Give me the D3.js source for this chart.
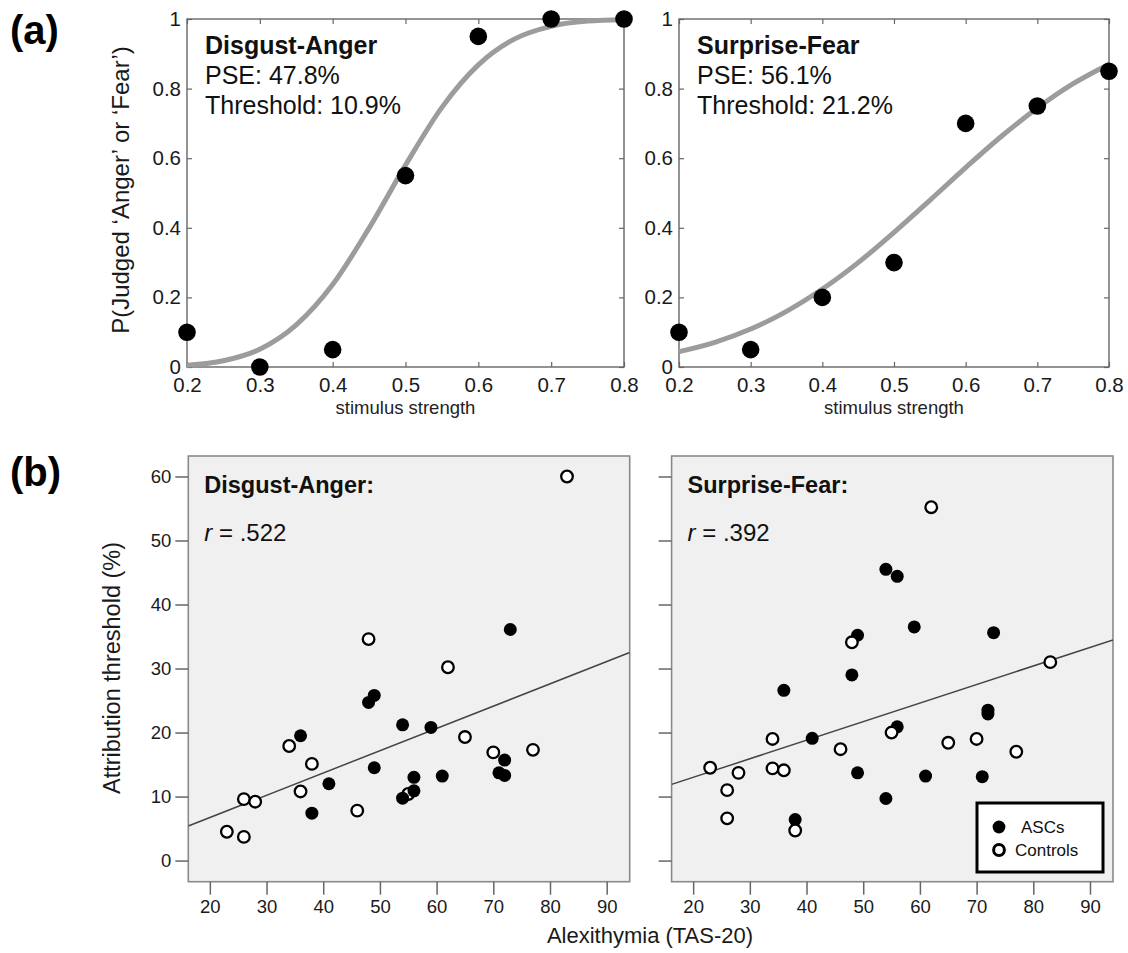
<!DOCTYPE html>
<html>
<head>
<meta charset="utf-8">
<script src="https://cdn.jsdelivr.net/npm/d3@7"></script>
<style>
  body { margin: 0; background: #fff; }
  svg { display: block; font-family: "Liberation Sans", Arial, sans-serif; }
</style>
</head>
<body>
<svg id="chart" width="1128" height="953"></svg>
<script>
// ---------- panel (a): psychometric curves ----------
var strength = [0.2, 0.3, 0.4, 0.5, 0.6, 0.7, 0.8];
var daProp = [0.10, 0.00, 0.05, 0.55, 0.95, 1.00, 1.00];
var sfProp = [0.10, 0.05, 0.20, 0.30, 0.70, 0.75, 0.85];

// fitted curves
var fitX  = [0.20, 0.25, 0.30, 0.35, 0.40, 0.45, 0.50, 0.55, 0.60, 0.65, 0.70, 0.75, 0.80];
var daFit = [0.005, 0.018, 0.051, 0.121, 0.237, 0.399, 0.580, 0.746, 0.868, 0.943, 0.979, 0.994, 0.998];
var sfFit = [0.044, 0.071, 0.109, 0.160, 0.224, 0.300, 0.387, 0.479, 0.573, 0.663, 0.744, 0.814, 0.870];

var strengthTicks = [0.2, 0.3, 0.4, 0.5, 0.6, 0.7, 0.8];
var probTicks = [0, 0.2, 0.4, 0.6, 0.8, 1];

// ---------- panel (b): threshold vs alexithymia ----------
var daAscTas = [36, 38, 41, 48, 49, 49, 54, 54, 56, 56, 59, 61, 71, 72, 72, 73];
var daAscThr = [19.5, 7.4, 12.0, 24.7, 25.8, 14.5, 21.2, 9.75, 13.0, 10.9, 20.8, 13.2, 13.7, 15.7, 13.3, 36.1];
var daCtlTas = [23, 26, 26, 28, 34, 36, 38, 46, 48, 55, 62, 65, 70, 77, 83];
var daCtlThr = [4.5, 9.6, 3.7, 9.2, 17.9, 10.8, 15.1, 7.8, 34.6, 10.4, 30.2, 19.3, 16.9, 17.3, 60.0];

var sfAscTas = [36, 38, 41, 48, 49, 49, 54, 54, 56, 56, 59, 61, 71, 72, 72, 73];
var sfAscThr = [26.6, 6.4, 19.1, 29.0, 35.2, 13.7, 45.5, 9.7, 44.4, 20.9, 36.5, 13.2, 13.1, 23.5, 22.9, 35.6];
var sfCtlTas = [23, 26, 26, 28, 34, 34, 36, 38, 46, 48, 55, 62, 65, 70, 77, 83];
var sfCtlThr = [14.5, 11.0, 6.6, 13.7, 19.0, 14.4, 14.1, 4.7, 17.4, 34.1, 20.0, 55.2, 18.4, 19.0, 17.0, 31.0];

// regression lines (intercept, slope)
var daFitLine = [-0.24, 0.348];
var sfFitLine = [7.2, 0.29];

var tasTicks = [20, 30, 40, 50, 60, 70, 80, 90];
var thrTicks = [0, 10, 20, 30, 40, 50, 60];

var svg = d3.select("#chart");

// panel letters
svg.append("text").attr("x", 10).attr("y", 44)
    .attr("font-size", 40).attr("font-weight", "bold").text("(a)");
svg.append("text").attr("x", 10).attr("y", 486)
    .attr("font-size", 40).attr("font-weight", "bold").text("(b)");

// ===== panel (a) =====
function drawPsych(x0, x1, props, fit, title, pse, thr) {
    var y0 = 367, y1 = 19;
    var x = d3.scaleLinear().domain([0.2, 0.8]).range([x0, x1]);
    var y = d3.scaleLinear().domain([0, 1]).range([y0, y1]);
    var g = svg.append("g");

    g.append("rect")
        .attr("x", x0).attr("y", y1)
        .attr("width", x1 - x0).attr("height", y0 - y1)
        .attr("fill", "none").attr("stroke", "#666").attr("stroke-width", 1.4);

    // inward ticks on all four sides
    var bottom = g.append("g").attr("transform", "translate(0," + y0 + ")")
        .call(d3.axisBottom(x).tickValues(strengthTicks).tickSizeInner(-5).tickSizeOuter(0)
            .tickPadding(10).tickFormat(d3.format("~g")));
    var top = g.append("g").attr("transform", "translate(0," + y1 + ")")
        .call(d3.axisTop(x).tickValues(strengthTicks).tickSizeInner(-5).tickSizeOuter(0).tickFormat(""));
    var left = g.append("g").attr("transform", "translate(" + x0 + ",0)")
        .call(d3.axisLeft(y).tickValues(probTicks).tickSizeInner(-5).tickSizeOuter(0)
            .tickPadding(6).tickFormat(d3.format("~g")));
    var right = g.append("g").attr("transform", "translate(" + x1 + ",0)")
        .call(d3.axisRight(y).tickValues(probTicks).tickSizeInner(-5).tickSizeOuter(0).tickFormat(""));

    [bottom, top, left, right].forEach(function(a) {
        a.select(".domain").remove();
        a.selectAll(".tick line").attr("stroke", "#666").attr("stroke-width", 1.2);
        a.selectAll(".tick text").attr("font-size", 20.5).attr("fill", "#1a1a1a")
            .attr("font-family", "Liberation Sans, Arial, sans-serif");
    });

    var line = d3.line()
        .x(function(d, i) { return x(fitX[i]); })
        .y(function(d) { return y(d); })
        .curve(d3.curveMonotoneX);
    g.append("path").datum(fit)
        .attr("d", line)
        .attr("fill", "none").attr("stroke", "#9c9c9c").attr("stroke-width", 5);

    g.selectAll("circle.pt").data(props).enter().append("circle")
        .attr("class", "pt")
        .attr("cx", function(d, i) { return x(strength[i]); })
        .attr("cy", function(d) { return y(d); })
        .attr("r", 8.8).attr("fill", "#000");

    var tx = x0 + 18;
    g.append("text").attr("x", tx).attr("y", 54).attr("font-size", 25)
        .attr("font-weight", "bold").attr("fill", "#111").text(title);
    g.append("text").attr("x", tx).attr("y", 84).attr("font-size", 25)
        .attr("fill", "#111").text("PSE: " + pse);
    g.append("text").attr("x", tx).attr("y", 114).attr("font-size", 25)
        .attr("fill", "#111").text("Threshold: " + thr);

    g.append("text")
        .attr("x", (x0 + x1) / 2).attr("y", 414)
        .attr("text-anchor", "middle").attr("font-size", 18.5).attr("fill", "#222")
        .text("stimulus strength");
}

drawPsych(187, 624, daProp, daFit, "Disgust-Anger", "47.8%", "10.9%");
drawPsych(679, 1109, sfProp, sfFit, "Surprise-Fear", "56.1%", "21.2%");

svg.append("text")
    .attr("transform", "translate(129,190) rotate(-90)")
    .attr("text-anchor", "middle").attr("font-size", 24).attr("fill", "#1a1a1a")
    .text("P(Judged \u2018Anger\u2019 or \u2018Fear\u2019)");

// ===== panel (b) =====
function drawScatter(x0, x1, showLabels, ascTas, ascThr, ctlTas, ctlThr, fitLine, title, r, ascOnTop, id) {
    var y0 = 881.7, y1 = 456;
    var x = d3.scaleLinear().domain([16.2, 94.06]).range([x0, x1]);
    var y = d3.scaleLinear().domain([-3.3, 63.2]).range([y0, y1]);
    var g = svg.append("g");

    g.append("clipPath").attr("id", "clip" + id)
        .append("rect").attr("x", x0).attr("y", y1).attr("width", x1 - x0).attr("height", y0 - y1);

    g.append("rect")
        .attr("x", x0).attr("y", y1)
        .attr("width", x1 - x0).attr("height", y0 - y1)
        .attr("fill", "#f0f0f0").attr("stroke", "#8a8a8a").attr("stroke-width", 1.6);

    var bottom = g.append("g").attr("transform", "translate(0," + y0 + ")")
        .call(d3.axisBottom(x).tickValues(tasTicks).tickSizeInner(13).tickSizeOuter(0).tickPadding(5));
    var left = g.append("g").attr("transform", "translate(" + x0 + ",0)")
        .call(d3.axisLeft(y).tickValues(thrTicks).tickSizeInner(13).tickSizeOuter(0).tickPadding(4)
            .tickFormat(showLabels ? d3.format("d") : ""));
    [bottom, left].forEach(function(a) {
        a.select(".domain").remove();
        a.selectAll(".tick line").attr("stroke", "#666").attr("stroke-width", 1.5);
        a.selectAll(".tick text").attr("font-size", 18.5).attr("fill", "#1a1a1a")
            .attr("font-family", "Liberation Sans, Arial, sans-serif");
    });

    var xd = x.domain();
    g.append("line")
        .attr("clip-path", "url(#clip" + id + ")")
        .attr("x1", x(xd[0])).attr("y1", y(fitLine[0] + fitLine[1] * xd[0]))
        .attr("x2", x(xd[1])).attr("y2", y(fitLine[0] + fitLine[1] * xd[1]))
        .attr("stroke", "#444").attr("stroke-width", 1.5);

    function ctl() {
        g.append("g").selectAll("circle").data(ctlTas).enter().append("circle")
            .attr("cx", function(d) { return x(d); })
            .attr("cy", function(d, i) { return y(ctlThr[i]); })
            .attr("r", 5.8).attr("fill", "#fff").attr("stroke", "#000").attr("stroke-width", 2.3);
    }
    function asc() {
        g.append("g").selectAll("circle").data(ascTas).enter().append("circle")
            .attr("cx", function(d) { return x(d); })
            .attr("cy", function(d, i) { return y(ascThr[i]); })
            .attr("r", 6.5).attr("fill", "#000");
    }
    if (ascOnTop) { ctl(); asc(); } else { asc(); ctl(); }

    g.append("text").attr("x", x0 + 16).attr("y", 493).attr("font-size", 23.5)
        .attr("font-weight", "bold").attr("fill", "#111").text(title);
    var rt = g.append("text").attr("x", x0 + 16).attr("y", 541).attr("font-size", 24).attr("fill", "#111");
    rt.append("tspan").attr("font-style", "italic").text("r");
    rt.append("tspan").text(" = " + r);
    return g;
}

drawScatter(188.3, 629.7, true, daAscTas, daAscThr, daCtlTas, daCtlThr, daFitLine, "Disgust-Anger:", ".522", true, "da");
var sfG = drawScatter(671.6, 1113, false, sfAscTas, sfAscThr, sfCtlTas, sfCtlThr, sfFitLine, "Surprise-Fear:", ".392", false, "sf");

// legend
var lg = sfG.append("g");
lg.append("rect").attr("x", 977).attr("y", 803).attr("width", 126).attr("height", 69)
    .attr("fill", "#fff").attr("stroke", "#000").attr("stroke-width", 3);
lg.append("circle").attr("cx", 999).attr("cy", 827).attr("r", 6.4).attr("fill", "#000");
lg.append("circle").attr("cx", 999).attr("cy", 850).attr("r", 5.4)
    .attr("fill", "#fff").attr("stroke", "#000").attr("stroke-width", 3);
lg.append("text").attr("x", 1021).attr("y", 833).attr("font-size", 17).attr("fill", "#111").text("ASCs");
lg.append("text").attr("x", 1015).attr("y", 856).attr("font-size", 17).attr("fill", "#111").text("Controls");

svg.append("text")
    .attr("x", 650).attr("y", 943)
    .attr("text-anchor", "middle").attr("font-size", 22).attr("fill", "#1a1a1a")
    .text("Alexithymia (TAS-20)");
svg.append("text")
    .attr("transform", "translate(120,668) rotate(-90)")
    .attr("text-anchor", "middle").attr("font-size", 23.5).attr("fill", "#1a1a1a")
    .text("Attribution threshold (%)");
</script>
</body>
</html>
